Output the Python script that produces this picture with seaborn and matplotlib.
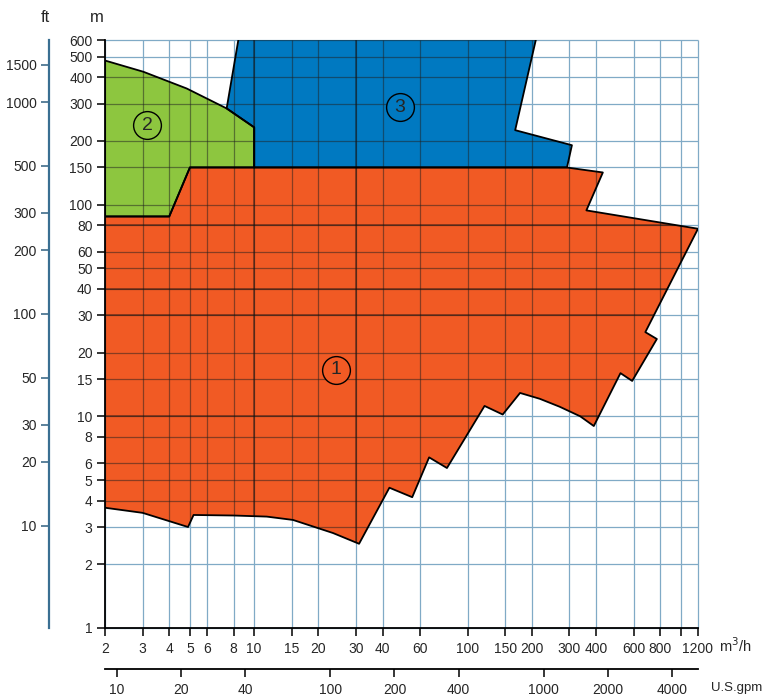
import matplotlib
matplotlib.use('Agg')
import matplotlib.pyplot as plt
import seaborn as sns

# ================================================
# Pump selection chart - head (m) vs flow (m3/h)
# corner points
# ================================================

# range 1 (orange), clockwise from the top-left corner
range1_q = [2, 4, 5, 290, 430, 360, 1200, 680, 770, 590, 520, 390, 337, 270, 218,
            176, 146, 120, 80, 66, 55, 43, 31, 23.4, 15.2, 11.45, 8, 5.2, 4.9, 3, 2]
range1_h = [88, 88, 150, 150, 142, 94, 77, 25, 23.2, 14.7, 16, 9, 10.0, 11.1, 12.1,
            12.9, 10.2, 11.2, 5.7, 6.4, 4.15, 4.6, 2.5, 2.81, 3.24, 3.36, 3.4, 3.42, 3.0, 3.5, 3.7]

# range 2 (green)
range2_q = [2, 2, 3.02, 4.83, 7.43, 10, 10, 5, 4, 2]
range2_h = [88, 480, 425, 354, 285, 232, 150, 150, 88, 88]

# range 3 (blue), top runs past 600 m and is cut by the axes
range3_q = [8.65, 216, 167, 308, 292, 10, 10, 7.43, 8.65]
range3_h = [700, 700, 225, 191, 150, 150, 232, 285, 700]

label_q = [24.2, 3.15, 48]
label_h = [16.6, 237, 288]
label_txt = ['1', '2', '3']

q_ticks = [2, 3, 4, 5, 6, 8, 10, 15, 20, 30, 40, 60, 100, 150, 200, 300, 400, 600, 800, 1000, 1200]
q_labels = ['2', '3', '4', '5', '6', '8', '10', '15', '20', '30', '40', '60', '100', '150',
            '200', '300', '400', '600', '800', '', '1200']
h_ticks = [1, 2, 3, 4, 5, 6, 8, 10, 15, 20, 30, 40, 50, 60, 80, 100, 150, 200, 300, 400, 500, 600]
ft_ticks = [10, 20, 30, 50, 100, 200, 300, 500, 1000, 1500]
gpm_ticks = [10, 20, 40, 100, 200, 400, 1000, 2000, 4000]

# heavier grid lines in the original drawing (visible on the coloured areas)
q_heavy = [10, 30, 1000]
h_heavy = [10, 30, 40, 80]

colors = ['#f15a24', '#8dc63f', '#0079c1']

sns.set_theme(style='white')
plt.rcParams['font.family'] = ['DejaVu Sans Condensed', 'Liberation Sans', 'DejaVu Sans']

fig = plt.figure(figsize=(7.63, 6.97), dpi=100)
ax = fig.add_axes([0.1376, 0.0990, 0.7772, 0.8436])
ax.set_xscale('log')
ax.set_yscale('log')
ax.set_xlim(2, 1200)
ax.set_ylim(1, 600)

# light grid on the white paper
ax.vlines(q_ticks, 1, 600, color='#80aac6', lw=0.9, zorder=0.5, clip_on=False)
ax.hlines(h_ticks, 2, 1200, color='#80aac6', lw=0.9, zorder=0.5, clip_on=False)

regions = [(range3_q, range3_h), (range2_q, range2_h), (range1_q, range1_h)]
region_colors = [colors[2], colors[1], colors[0]]
for (q, h), c in zip(regions, region_colors):
    patch = ax.fill(q, h, color=c, lw=0, zorder=1)[0]
    # dark grid seen through the coloured area
    for lines in [ax.vlines(q_ticks, 1, 600, color='#202020', lw=0.9, alpha=0.5, zorder=1.5),
                  ax.hlines(h_ticks, 2, 1200, color='#202020', lw=0.9, alpha=0.5, zorder=1.5),
                  ax.vlines(q_heavy, 1, 600, color='#101010', lw=1.2, alpha=0.5, zorder=1.5),
                  ax.hlines(h_heavy, 2, 1200, color='#101010', lw=1.2, alpha=0.5, zorder=1.5)]:
        lines.set_clip_path(patch)
    sns.lineplot(x=q, y=h, sort=False, estimator=None, color='black', lw=1.3, ax=ax, zorder=2)

# circled range numbers
for q, h, t, c in zip(label_q, label_h, label_txt, colors):
    ax.plot(q, h, marker='o', ms=20, mfc=c, mec='black', mew=1.0, zorder=3)
    ax.text(q, h, t, ha='center', va='center', fontsize=14, zorder=4)

ax.set_xticks(q_ticks)
ax.set_xticklabels(q_labels)
ax.set_yticks(h_ticks)
ax.set_yticklabels([str(v) for v in h_ticks])
ax.minorticks_off()
ax.tick_params(direction='out', length=6, width=1.1, color='black', labelsize=10,
               pad=3, bottom=True, left=True)
ax.tick_params(axis='x', pad=4)
ax.set_xlabel('')
ax.set_ylabel('')
for s in ['top', 'right']:
    ax.spines[s].set_visible(False)
for s in ['left', 'bottom']:
    ax.spines[s].set_color('black')
    ax.spines[s].set_linewidth(1.3)
    ax.spines[s].set_zorder(5)

# feet scale on the left
ft_ax = ax.secondary_yaxis(-0.0944, functions=(lambda m: m * 3.28084, lambda f: f / 3.28084))
ft_ax.set_yticks(ft_ticks)
ft_ax.set_yticklabels([str(v) for v in ft_ticks])
ft_ax.minorticks_off()
ft_ax.tick_params(direction='out', length=6, width=1.1, color='#2f5f80', labelsize=10, pad=3)
ft_ax.spines['left'].set_color('#3a6f92')
ft_ax.spines['left'].set_linewidth(1.6)

# US gallons per minute scale at the bottom
gpm_ax = ax.secondary_xaxis(-0.0697, functions=(lambda q: q * 4.4029, lambda g: g / 4.4029))
gpm_ax.set_xticks(gpm_ticks)
gpm_ax.set_xticklabels([str(v) for v in gpm_ticks])
gpm_ax.minorticks_off()
gpm_ax.tick_params(direction='out', length=6, width=1.1, color='black', labelsize=10, pad=4)
gpm_ax.spines['bottom'].set_color('black')
gpm_ax.spines['bottom'].set_linewidth(1.3)

fig.text(45 / 763, 1 - 18 / 697, 'ft', ha='center', va='center', fontsize=12)
fig.text(97 / 763, 1 - 18 / 697, 'm', ha='center', va='center', fontsize=12)
fig.text(719 / 763, 1 - 646 / 697, 'm$^3$/h', ha='left', va='center', fontsize=10.5)
fig.text(737 / 763, 1 - 688 / 697, 'U.S.gpm', ha='center', va='center', fontsize=9.5)

plt.savefig('out.png', dpi=100)
